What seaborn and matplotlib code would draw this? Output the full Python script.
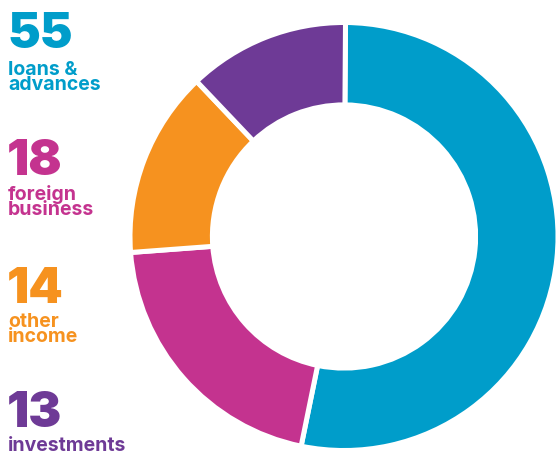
import matplotlib
matplotlib.use("Agg")
import matplotlib.pyplot as plt
import seaborn as sns

categories = ["loans &\nadvances", "foreign\nbusiness", "other\nincome", "investments"]
values = [55, 18, 14, 13]                 # printed figures
shares = [53.1, 20.6, 14.1, 12.2]         # wedge sizes as drawn in the picture
colors = ["#009DCA", "#C4338F", "#F6921F", "#6E3A96"]

sns.set_theme(style="white")
plt.rcParams['font.family'] = ['Inter', 'DejaVu Sans']

W, H = 556, 456
fig = plt.figure(figsize=(W / 100, H / 100), dpi=100)
cx, cy, R = 344, 237.5, 214
ax = fig.add_axes([(cx - R) / W, (H - cy - R) / H, 2 * R / W, 2 * R / H])
ax.pie(shares, colors=colors, startangle=89.6, counterclock=False, radius=1,
       wedgeprops=dict(width=0.385, edgecolor="white", linewidth=3.6))
ax.set_xlim(-1.0, 1.0)
ax.set_ylim(-1.0, 1.0)
ax.set_aspect("equal")
ax.axis("off")

num_base = [48, 175, 303, 427]
lab_last_base = [90.5, 215.5, 342.5, 451]
for v, lab, c, nb, lb in zip(values, categories, colors, num_base, lab_last_base):
    fig.text(7 / W, 1 - nb / H, str(v), color=c, fontsize=35.5, fontweight="black",
             ha="left", va="baseline")
    fig.text(8 / W, 1 - lb / H, lab, color=c, fontsize=14, linespacing=0.82,
             fontweight="bold", ha="left", va="baseline")

fig.savefig("out.png", dpi=100)
